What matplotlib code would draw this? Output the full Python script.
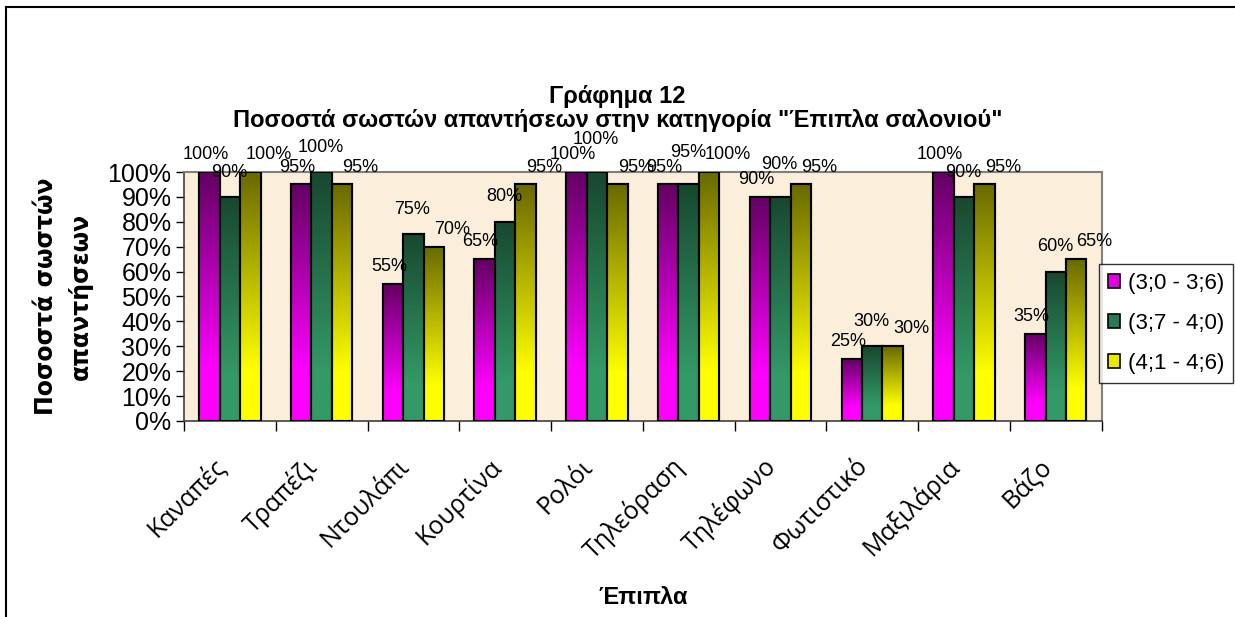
import matplotlib
matplotlib.use("Agg")
import matplotlib.pyplot as plt
import numpy as np
from matplotlib.colors import LinearSegmentedColormap
from matplotlib.patches import Patch
from matplotlib.lines import Line2D
from matplotlib.transforms import ScaledTranslation

categories = ['Καναπές', 'Τραπέζι', 'Ντουλάπι', 'Κουρτίνα', 'Ρολόι',
              'Τηλεόραση', 'Τηλέφωνο', 'Φωτιστικό', 'Μαξιλάρια', 'Βάζο']
series_names = ['(3;0 - 3;6)', '(3;7 - 4;0)', '(4;1 - 4;6)']
age_a = [100, 95, 55, 65, 100, 95, 90, 25, 100, 35]
age_b = [90, 100, 75, 80, 100, 95, 90, 30, 90, 60]
age_c = [100, 95, 70, 95, 95, 100, 95, 30, 95, 65]
yticks = [0, 10, 20, 30, 40, 50, 60, 70, 80, 90, 100]

# top (dark) -> bottom (bright)
shades = [('#640064', '#FF00FF'), ('#184830', '#339966'), ('#6A6A00', '#FFFF00')]
legend_fill = ['#E000E0', '#2A7A55', '#E8E800']
# value label nudges per series (category units, percent units)
label_dx = [-0.045, -0.01, 0.2]
label_dy = [7, 10, 7]

fig = plt.figure(figsize=(12.35, 6.17), dpi=100)
ax = fig.add_axes([0.149, 0.3177, 0.743, 0.4035])
ax.set_facecolor('#FBEEDA')

x = np.arange(len(categories))
w = 0.223
data = [age_a, age_b, age_c]
label_y = {}
for i, vals in enumerate(data):
    pos = x + (i - 1) * w
    bars = ax.bar(pos, vals, w, color=shades[i][1], edgecolor='black', linewidth=1.5, zorder=2)
    cmap = LinearSegmentedColormap.from_list('g%d' % i, [(0, shades[i][0]), (0.8, shades[i][1]), (1, shades[i][1])])
    for b, v in zip(bars, vals):
        x0 = b.get_x()
        grad = np.linspace(0, 1, 100).reshape(-1, 1)
        im = ax.imshow(grad, extent=[x0, x0 + w, 0, v], origin='upper', aspect='auto',
                       cmap=cmap, zorder=2.5)
        im.set_clip_path(b)
    ax.bar(pos, vals, w, fill=False, edgecolor='black', linewidth=1.5, zorder=3)
    for j, (p, v) in enumerate(zip(pos, vals)):
        ly = v + label_dy[i]
        # keep the middle label clear of the first one
        if i == 1 and abs(ly - label_y[(0, j)]) < 6:
            ly = label_y[(0, j)] + 6
        label_y[(i, j)] = ly
        ax.text(p + label_dx[i], ly, '%d%%' % v, ha='center', va='center', fontsize=13,
                family='Liberation Sans', zorder=4, clip_on=False)

ax.set_xlim(-0.5, len(categories) - 0.5)
ax.set_ylim(0, 100)
ax.set_yticks(yticks)
ax.set_yticklabels(['%d%%' % t for t in yticks], family='Liberation Sans', fontsize=18)
ax.tick_params(axis='y', length=6, width=1, pad=3)

ax.set_xticks(np.arange(len(categories) + 1) - 0.5)
ax.set_xticklabels([])
ax.tick_params(axis='x', which='major', length=7, width=1)
ax.set_xticks(x, minor=True)
ax.set_xticklabels(categories, minor=True, rotation=45, ha='right', va='center',
                   rotation_mode='anchor', family='Open Sans', fontsize=18)
ax.tick_params(axis='x', which='minor', length=0, pad=30)
shift = ScaledTranslation(-8 / 100, 0, fig.dpi_scale_trans)
for t in ax.get_xticklabels(minor=True):
    t.set_transform(t.get_transform() + shift)

for s in ['top', 'right']:
    ax.spines[s].set_color('#808080')
    ax.spines[s].set_linewidth(1.5)
for s in ['left', 'bottom']:
    ax.spines[s].set_color('#404040')
    ax.spines[s].set_linewidth(1.2)

ax.set_ylabel('Ποσοστά σωστών\nαπαντήσεων', family='DejaVu Sans', fontweight='bold',
              fontsize=17, linespacing=1.5)
ax.yaxis.set_label_coords(-0.099, 0.5)
ax.set_xlabel('Έπιπλα', family='Liberation Sans', fontweight='bold', fontsize=17)
ax.xaxis.set_label_coords(0.5, -(598 - 421) / 249.0)
ax.xaxis.label.set_va('center')

fig.text(0.5, 1 - 97 / 617, 'Γράφημα 12', ha='center', va='center', fontsize=17,
         fontweight='bold', family='Liberation Sans')
fig.text(0.5, 1 - 120 / 617, 'Ποσοστά σωστών απαντήσεων στην κατηγορία "Έπιπλα σαλονιού"',
         ha='center', va='center', fontsize=17, fontweight='bold', family='Liberation Sans')

handles = [Patch(facecolor=c, edgecolor='black', linewidth=1.2) for c in legend_fill]
leg = fig.legend(handles, series_names, loc='upper left', bbox_to_anchor=(1099 / 1235, 1 - 264 / 617),
                 prop={'family': 'Liberation Sans', 'size': 16}, frameon=True, fancybox=False,
                 handlelength=0.55, handleheight=0.55, handletextpad=0.35, labelspacing=0.85,
                 borderpad=0.4, borderaxespad=0)
leg.get_frame().set_edgecolor('black')
leg.get_frame().set_linewidth(1)

fig.add_artist(Line2D([6 / 1235, 6 / 1235], [0, 1 - 7 / 617], color='black', linewidth=1.5))
fig.add_artist(Line2D([6 / 1235, 1], [1 - 7 / 617, 1 - 7 / 617], color='black', linewidth=1.5))

fig.savefig('out.png', dpi=100)
